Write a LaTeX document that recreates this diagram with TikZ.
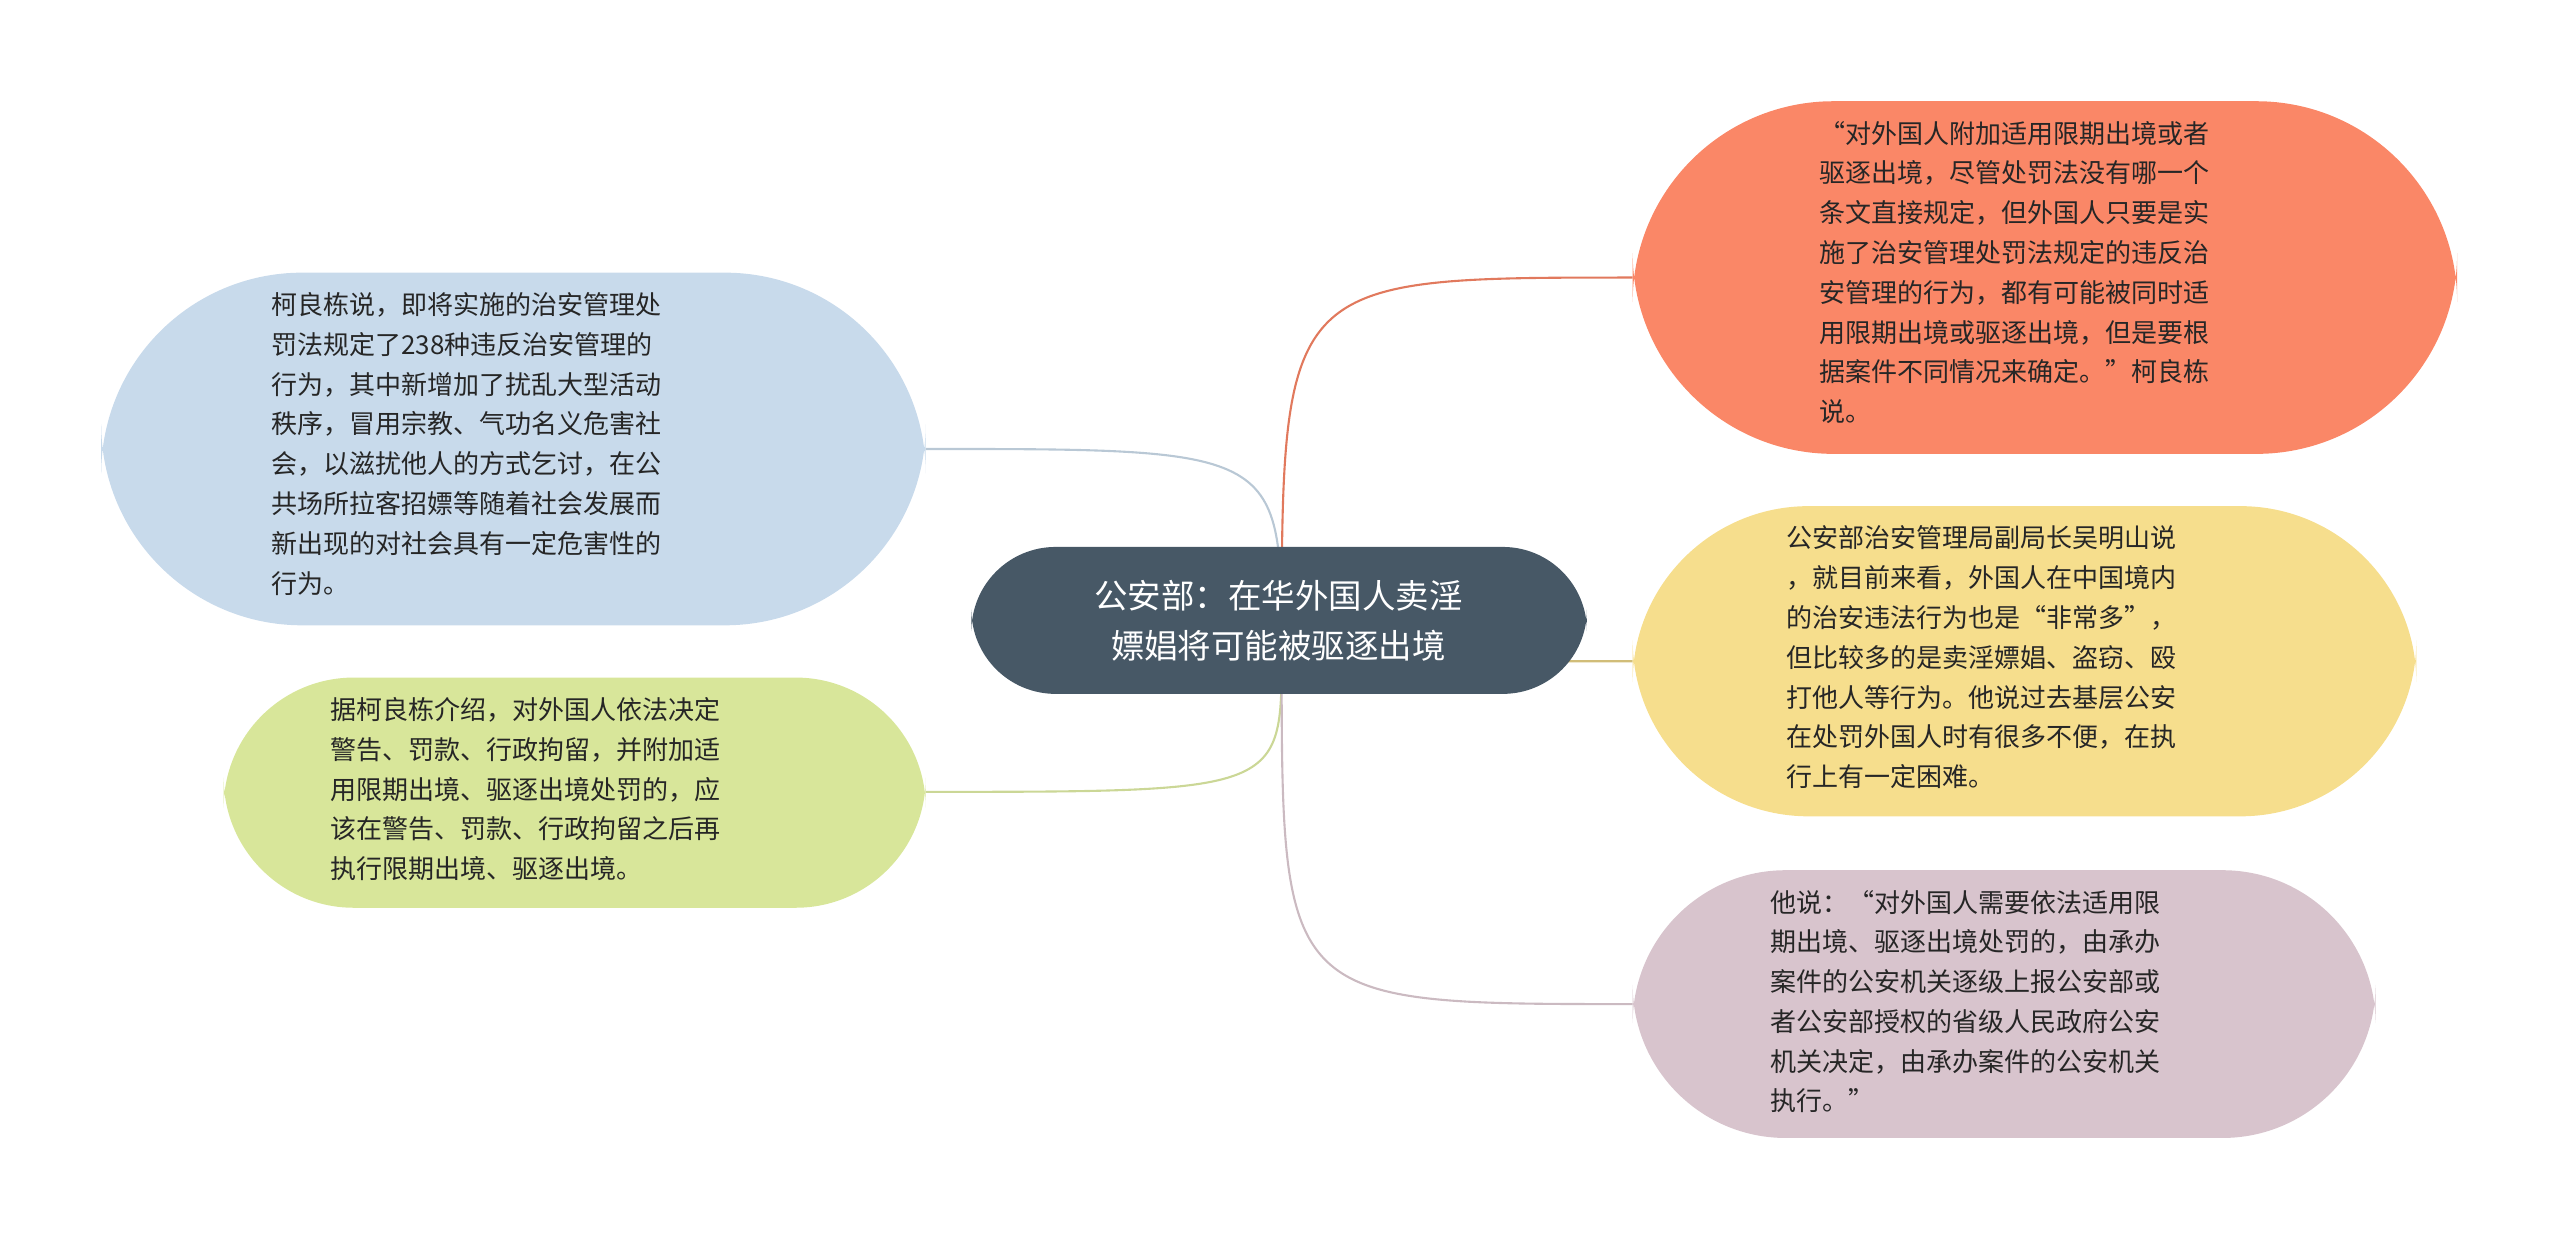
\documentclass[tikz,border=0pt]{standalone}
\usepackage{fontspec}
\newfontfamily\cjk{Noto Sans CJK SC}
\begin{document}
\begin{tikzpicture}[x=0.03cm,y=-0.03cm,
 bub/.style={draw=none,rounded corners=38pt,inner sep=0pt},
 txt/.style={align=left,font=\cjk\fontsize{13.6}{20.8}\selectfont,text=black!85,anchor=north west},
 con/.style={line width=1.1pt}]
\useasboundingbox (0,0) rectangle (1568,761);
\definecolor{cb}{HTML}{C8DAEB}\definecolor{cg}{HTML}{D8E69A}\definecolor{co}{HTML}{FA8767}
\definecolor{cy}{HTML}{F6DE8D}\definecolor{cp}{HTML}{D8C4CD}\definecolor{cc}{HTML}{475866}
\coordinate (o) at (785,400);
\coordinate (lb) at (567,275); \coordinate (lg) at (567,485);
\coordinate (ro) at (1000,170); \coordinate (ry) at (1000,405); \coordinate (rp) at (1000,615);
\draw[con,cb!80!gray] (o) .. controls (785,275) .. (lb);
\draw[con,cg!85!gray] (o) .. controls (785,485) .. (lg);
\draw[con,co!90!black] (o) .. controls (785,170) .. (ro);
\draw[con,cy!85!black] (o) .. controls (785,405) .. (ry);
\draw[con,cp!85!gray] (o) .. controls (785,615) .. (rp);
\fill[cb,rounded corners=105] (62,167) rectangle (567,383);
\fill[cg,rounded corners=68] (137,415) rectangle (567,556);
\fill[co,rounded corners=105] (1000,62) rectangle (1505,278);
\fill[cy,rounded corners=92] (1000,310) rectangle (1480,500);
\fill[cp,rounded corners=80] (1000,533) rectangle (1455,697);
\fill[cc,rounded corners=44] (595,335) rectangle (972,425);
\node (c) at (783,380) [align=center,text=white,font=\cjk\fontsize{17.5}{26}\selectfont] {公安部：在华外国人卖淫\\嫖娼将可能被驱逐出境};
\node (t1) [txt] at (162,175) {柯良栋说，即将实施的治安管理处\\罚法规定了238种违反治安管理的\\行为，其中新增加了扰乱大型活动\\秩序，冒用宗教、气功名义危害社\\会，以滋扰他人的方式乞讨，在公\\共场所拉客招嫖等随着社会发展而\\新出现的对社会具有一定危害性的\\行为。};
\node (t2) [txt] at (198,423) {据柯良栋介绍，对外国人依法决定\\警告、罚款、行政拘留，并附加适\\用限期出境、驱逐出境处罚的，应\\该在警告、罚款、行政拘留之后再\\执行限期出境、驱逐出境。};
\node (t3) [txt] at (1110,70) {“对外国人附加适用限期出境或者\\驱逐出境，尽管处罚法没有哪一个\\条文直接规定，但外国人只要是实\\施了治安管理处罚法规定的违反治\\安管理的行为，都有可能被同时适\\用限期出境或驱逐出境，但是要根\\据案件不同情况来确定。”柯良栋\\说。};
\node (t4) [txt] at (1090,318) {公安部治安管理局副局长吴明山说\\，就目前来看，外国人在中国境内\\的治安违法行为也是“非常多”，\\但比较多的是卖淫嫖娼、盗窃、殴\\打他人等行为。他说过去基层公安\\在处罚外国人时有很多不便，在执\\行上有一定困难。};
\node (t5) [txt] at (1080,541) {他说：“对外国人需要依法适用限\\期出境、驱逐出境处罚的，由承办\\案件的公安机关逐级上报公安部或\\者公安部授权的省级人民政府公安\\机关决定，由承办案件的公安机关\\执行。”};
\end{tikzpicture}
\end{document}
